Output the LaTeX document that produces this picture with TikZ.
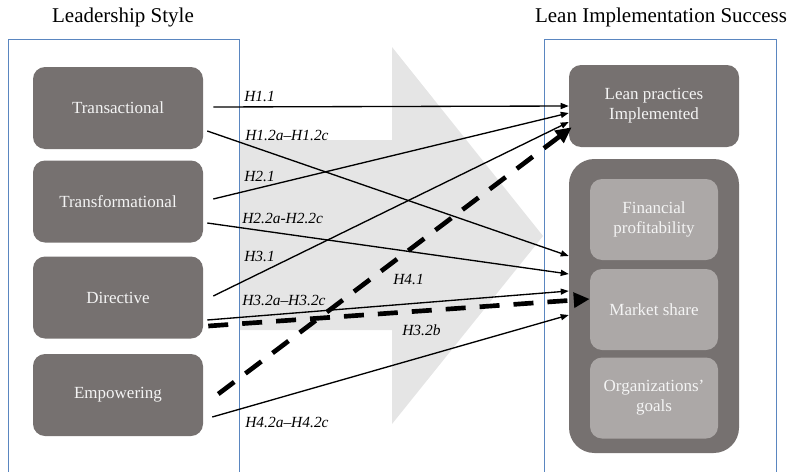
\documentclass[tikz,border=0pt]{standalone}
\usepackage{fontspec}
\setmainfont{Liberation Serif}
\usetikzlibrary{calc,arrows.meta}
\definecolor{boxgray}{HTML}{767170}
\definecolor{innergray}{HTML}{ACA8A7}
\definecolor{bggray}{HTML}{E5E5E5}
\definecolor{framblue}{HTML}{5A86C0}
\definecolor{boxtext}{HTML}{F4F4F4}
\begin{document}
\begin{tikzpicture}[x=0.75pt,y=-0.75pt,
    darkbox/.style={fill=boxgray, rounded corners=9pt, minimum width=127.5pt,
      minimum height=61.5pt, inner sep=0pt, align=center, text=boxtext,
      font=\fontsize{12.75}{15}\selectfont},
    lightbox/.style={darkbox, fill=innergray, minimum width=96pt, minimum height=60.75pt},
    title/.style={font=\fontsize{15.75}{18}\selectfont},
    hyplabel/.style={anchor=west, inner sep=0pt, font=\fontsize{11.6}{14}\selectfont\itshape},
    hyp/.style={line width=1pt, -{Triangle[length=6pt,width=4.5pt]}},
    hypdash/.style={line width=3.5pt, dash pattern=on 15pt off 10.5pt,
      -{Triangle[length=12pt,width=11pt]}}]
  \useasboundingbox (0,0) rectangle (792,471);
  % big arrow in the back
  \fill[bggray] (240,140) -- (392,140) -- (392,47) -- (543,236) -- (392,424)
    -- (392,330) -- (240,330) -- cycle;
  % frames
  \draw[framblue, line width=0.75pt] (8,475) -- (8,39) -- (239,39) -- (239,475);
  \draw[framblue, line width=0.75pt] (544,475) -- (544,39) -- (776,39) -- (776,475);
  \node[title] (ltitle) at (123,17) {Leadership Style};
  \node[title] (rtitle) at (661,17) {Lean Implementation Success};
  % leadership styles
  \node[darkbox] (trans) at (118,108) {Transactional};
  \node[darkbox] (transf) at (118,201.5) {Transformational};
  \node[darkbox] (dir) at (118,297.5) {Directive};
  \node[darkbox] (emp) at (118,395) {Empowering};
  % lean success
  \node[darkbox] (lean) at (654,106) {Lean practices\\Implemented};
  \node[darkbox, rounded corners=19pt, minimum height=220.5pt] (cont) at (654,306) {};
  \node[lightbox] (fin) at (654,219.5) {Financial\\profitability};
  \node[lightbox] (mkt) at (654,309.5) {Market share};
  \node[lightbox] (org) at (654,398) {Organizations'\\goals};
  % hypothesis labels
  \foreach \n/\x/\y/\t in {l11/244/97/H1.1, l12/245/135/H1.2a--H1.2c, l21/244/176/H2.1,
      l22/242/218/H2.2a-H2.2c, l31/244/256/H3.1, l41/393/280/H4.1,
      l32/242/300/H3.2a--H3.2c, l32b/402/330/H3.2b, l42/245/422/H4.2a--H4.2c} {
    \node[hyplabel] (\n) at (\x,\y) {\t};
  }
  % thin arrows
  \foreach \a/\dx/\dy/\b/\ex/\ey in {
      trans/10/-1/lean/0/0, trans/4/23/cont/0/-50,
      transf/10/-2.5/lean/0/7, transf/4/21.5/cont/0/-32,
      dir/10/-1.5/lean/0/16, dir/4/22.5/cont/0/-15,
      emp/9/22/cont/0/9} {
    \draw[hyp] ($(\a.east)+(\dx,\dy)$) -- ($(\b.west)+(\ex,\ey)$);
  }
  % dashed ones
  \draw[hypdash] ($(dir.east)+(5,28.5)$) -- ($(mkt.west)+(0,-10.5)$);
  \draw[hypdash] ($(emp.east)+(15,-1)$) -- ($(lean.south west)+(3,-20)$);
\end{tikzpicture}
\end{document}
